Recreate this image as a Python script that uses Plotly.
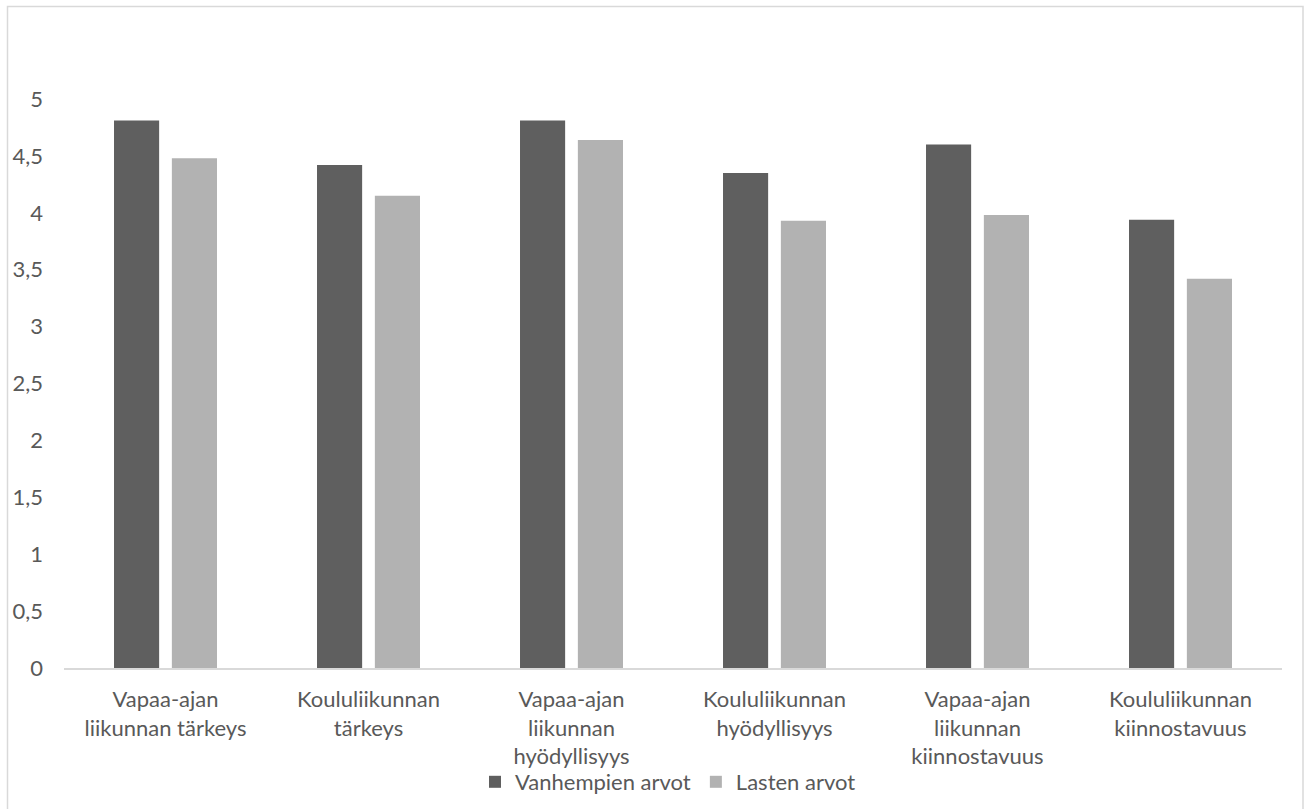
import plotly.graph_objects as go

# Categories (x-axis), two series of mean ratings, y-axis ticks
categories = [
    "Vapaa-ajan<br>liikunnan tärkeys",
    "Koululiikunnan<br>tärkeys",
    "Vapaa-ajan<br>liikunnan<br>hyödyllisyys",
    "Koululiikunnan<br>hyödyllisyys",
    "Vapaa-ajan<br>liikunnan<br>kiinnostavuus",
    "Koululiikunnan<br>kiinnostavuus",
]
parents_values = [4.81, 4.42, 4.81, 4.35, 4.60, 3.94]
children_values = [4.48, 4.15, 4.64, 3.93, 3.98, 3.42]
series_names = ["Vanhempien arvot", "Lasten arvot"]

y_ticks = [0, 0.5, 1, 1.5, 2, 2.5, 3, 3.5, 4, 4.5, 5]
y_tick_labels = ["0", "0,5", "1", "1,5", "2", "2,5", "3", "3,5", "4", "4,5", "5"]

W, H = 1309, 809
ML, MR, MT, MB = 64, 27, 99, 141
TEXT = "#595959"
FONT = "Lato"

fig = go.Figure()
fig.add_trace(go.Bar(x=categories, y=parents_values, name=series_names[0],
                     marker=dict(color="#5f5f5f", line=dict(width=0))))
fig.add_trace(go.Bar(x=categories, y=children_values, name=series_names[1],
                     marker=dict(color="#b2b2b2", line=dict(width=0))))

# Light outer frame of the chart area (bottom edge lies below the page)
pw = W - ML - MR
ph = H - MT - MB
def px_x(p):
    return (p - ML) / pw
def px_y(p):
    return (H - MB - p) / ph

fig.add_shape(type="rect", xref="paper", yref="paper",
              x0=px_x(7.5), x1=px_x(1303), y0=px_y(830), y1=px_y(6.5),
              line=dict(color="#d9d9d9", width=1.5), fillcolor="rgba(0,0,0,0)",
              layer="below")

fig.update_layout(
    width=W, height=H,
    margin=dict(l=ML, r=MR, t=MT, b=MB, pad=0, autoexpand=False),
    paper_bgcolor="white", plot_bgcolor="white",
    barmode="group", bargap=0.43, bargroupgap=0.22,
    font=dict(family=FONT, size=22, color=TEXT),
    showlegend=True,
    legend=dict(orientation="h", x=px_x(668), xanchor="center",
                y=px_y(782), yanchor="middle",
                font=dict(family=FONT, size=22, color=TEXT),
                itemwidth=30, traceorder="normal",
                bgcolor="rgba(0,0,0,0)"),
)
fig.update_xaxes(
    showgrid=False, showline=True, linecolor="#d9d9d9", linewidth=1.5,
    ticks="", tickfont=dict(family=FONT, size=22, color=TEXT),
    ticklabelstandoff=11, tickangle=0,
)
fig.update_yaxes(
    range=[0, 5], showgrid=False, zeroline=False, showline=False,
    tickmode="array", tickvals=y_ticks, ticktext=y_tick_labels,
    ticks="", tickfont=dict(family=FONT, size=22, color=TEXT),
    ticklabelstandoff=20,
)

fig.write_html("out.html")
